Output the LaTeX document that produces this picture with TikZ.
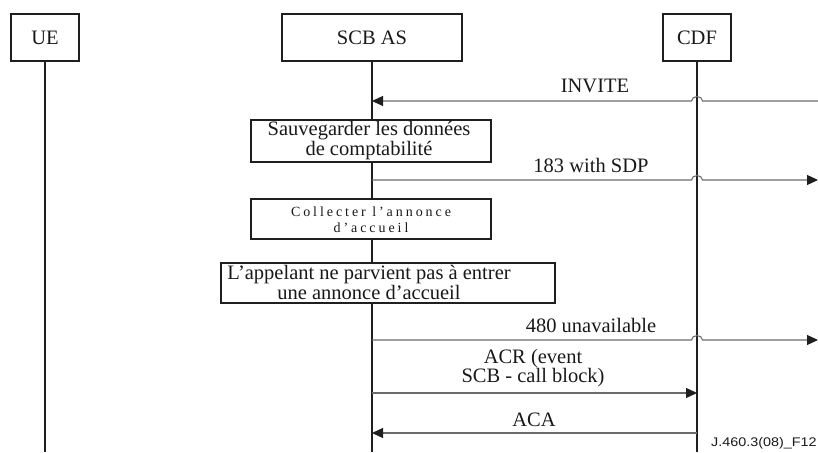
\documentclass[tikz,border=0pt]{standalone}
\usepackage{fontspec}
\usepackage{graphicx}
\setmainfont{Liberation Serif}
\newfontfamily\figidfont{Liberation Sans}
\newfontfamily\spacedfont[LetterSpace=21]{Liberation Serif}
\usetikzlibrary{arrows.meta}

\begin{document}
\begin{tikzpicture}[x=1pt,y=1pt,
  entity/.style={draw=black!88, line width=2.6pt, fill=white, text=black!90,
    minimum width=68pt, minimum height=47pt, inner sep=0pt,
    font=\fontsize{20.5}{18}\selectfont},
  lifeline/.style={draw=black!88, line width=2.5pt},
  actbox/.style={draw=black!88, line width=2.6pt, fill=white, inner sep=0pt},
  boxtext/.style={align=center, inner sep=0pt, text=black!90,
    font=\fontsize{20.5}{18}\selectfont},
  msg/.style={draw=black!58, line width=1.1pt,
    -{Triangle[length=11pt,width=10pt,color=black!88]}},
  msglabel/.style={anchor=base, inner sep=0pt, text=black!90,
    font=\fontsize{20.5}{19}\selectfont},
  jump/.style={start angle=#1, end angle=180-#1, x radius=5.5pt, y radius=4.5pt},
]
\useasboundingbox (0,0) rectangle (818,452);

% participants
\node[entity] (ue) at (45,414.5) {UE};
\node[entity, minimum width=180pt] (scb) at (372,414.5) {SCB AS};
\node[entity] (cdf) at (697,414.5) {CDF};

% lifelines
\coordinate (ue-end) at (45,0);
\coordinate (scb-end) at (372,0);
\coordinate (cdf-end) at (697,0);
\draw[lifeline] (ue.south) -- (ue-end);
\draw[lifeline] (scb.south) -- (scb-end);
\draw[lifeline] (cdf.south) -- (cdf-end);

% local actions of the SCB AS
\node[actbox, minimum width=240pt, minimum height=42pt] (save) at (371,311) {};
\node[boxtext] (save-t) at (369,311.7) {Sauvegarder les données\\de comptabilité};
\node[actbox, minimum width=240pt, minimum height=40pt] (collect) at (371,233) {};
\node[boxtext, font=\spacedfont\fontsize{14}{16}\selectfont] (collect-t) at (371,231.8)
  {Collecter l’annonce\\d’accueil};
\node[actbox, minimum width=334pt, minimum height=40pt] (fail) at (388,169) {};
\node[boxtext] (fail-t) at (369,169.8) {L’appelant ne parvient pas à entrer\\une annonce d’accueil};

% INVITE (from the right, jumping over the CDF lifeline)
\coordinate (inv-src) at (818,351);
\coordinate (inv-dst) at (372,351);
\coordinate (inv-x) at (cdf |- inv-src);
\draw[msg] (inv-src) -- ([xshift=5.5pt]inv-x) arc[jump=0] -- (inv-dst);
\node[msglabel] (inv-l) at (595,359) {INVITE};

% 183 with SDP
\coordinate (sdp-src) at (372,272);
\coordinate (sdp-dst) at (818,272);
\coordinate (sdp-x) at (cdf |- sdp-src);
\draw[msg] (sdp-src) -- ([xshift=-5.5pt]sdp-x) arc[jump=180] -- (sdp-dst);
\node[msglabel] (sdp-l) at (591,279) {183 with SDP};

% 480 unavailable
\coordinate (unav-src) at (372,112);
\coordinate (unav-dst) at (818,112);
\coordinate (unav-x) at (cdf |- unav-src);
\draw[msg] (unav-src) -- ([xshift=-5.5pt]unav-x) arc[jump=180] -- (unav-dst);
\node[msglabel] (unav-l) at (591,119) {480 unavailable};

% accounting request / answer
\coordinate (acr-src) at (372,59);
\coordinate (acr-dst) at (697,59);
\draw[msg] (acr-src) -- (acr-dst);
\node[boxtext, font=\fontsize{20.5}{19}\selectfont] (acr-l) at (533,84.3) {ACR (event\\SCB - call block)};

\coordinate (aca-src) at (697,19);
\coordinate (aca-dst) at (372,19);
\draw[msg] (aca-src) -- (aca-dst);
\node[msglabel] (aca-l) at (534,26) {ACA};

% figure reference
\node[anchor=base west, inner sep=0pt, text=black!90,
  font=\figidfont\fontsize{12.5}{14}\selectfont] (fig-id) at (711,6)
  {\scalebox{1.15}[1]{J.460.3(08)\_F12}};
\end{tikzpicture}
\end{document}
